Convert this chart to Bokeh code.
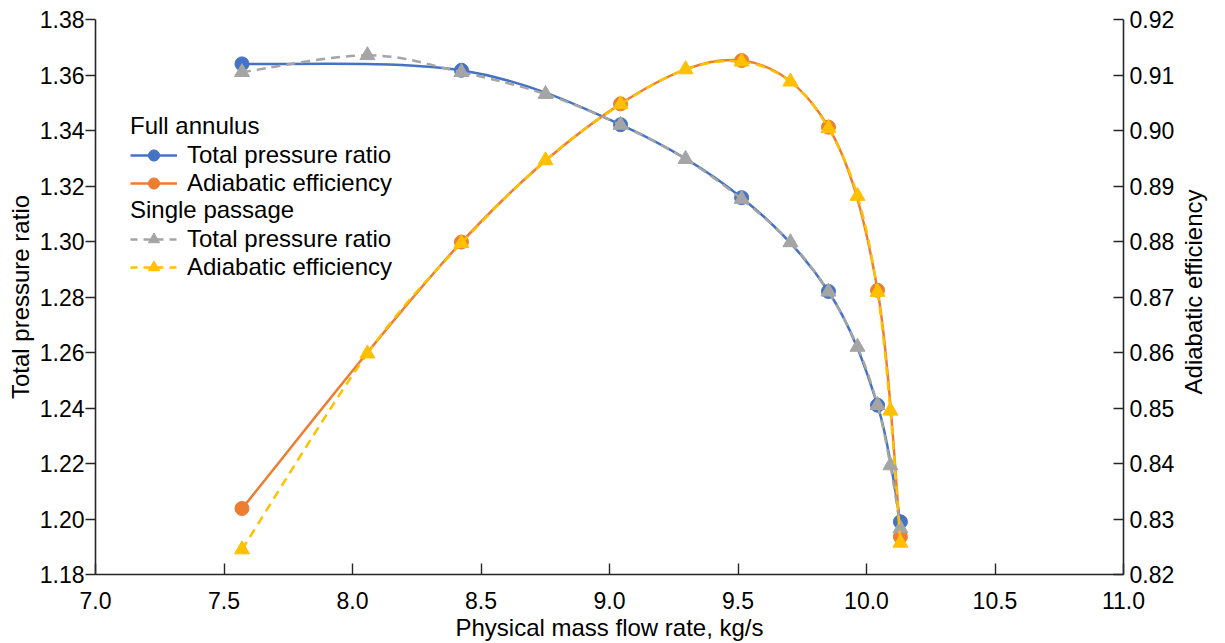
import math

from bokeh.plotting import figure
from bokeh.models import (Range1d, LinearAxis, Legend, LegendItem, FixedTicker,
                          NumeralTickFormatter)
from bokeh.embed import file_html
from bokeh.resources import INLINE

# Compressor map: full annulus vs single passage
fa_flow = [7.57, 8.424, 9.043, 9.514, 9.852, 10.043, 10.132]
fa_pr = [1.3640, 1.3617, 1.3421, 1.3158, 1.2820, 1.2410, 1.1990]
fa_eff = [0.8319, 0.8799, 0.9048, 0.9126, 0.9006, 0.8712, 0.8268]

sp_flow = [7.57, 8.058, 8.424, 8.751, 9.043, 9.296, 9.514, 9.704, 9.852, 9.965, 10.043, 10.093, 10.132]
sp_pr = [1.3610, 1.3671, 1.3610, 1.3531, 1.3420, 1.3297, 1.3153, 1.2997, 1.2819, 1.2620, 1.2410, 1.2193, 1.1966]
sp_eff = [0.8245, 0.8598, 0.8797, 0.8946, 0.9047, 0.9110, 0.9124, 0.9088, 0.9004, 0.8882, 0.8709, 0.8495, 0.8257]

pr_ticks = [1.18, 1.20, 1.22, 1.24, 1.26, 1.28, 1.30, 1.32, 1.34, 1.36, 1.38]
eff_ticks = [0.82, 0.83, 0.84, 0.85, 0.86, 0.87, 0.88, 0.89, 0.90, 0.91, 0.92]
flow_ticks = [7.0, 7.5, 8.0, 8.5, 9.0, 9.5, 10.0, 10.5, 11.0]

BLUE, ORANGE, GRAY, GOLD = "#4472C4", "#ED7D31", "#A5A5A5", "#FFC000"
FONT = "Liberation Sans"
FS = "24px"
TICK_FS = "23px"
AX = "#262626"


def smooth_segments(xs, ys):
    """Catmull-Rom style cubic Bezier segments through the points."""
    n = len(xs)
    seg = dict(x0=[], y0=[], x1=[], y1=[], cx0=[], cy0=[], cx1=[], cy1=[])
    for i in range(n - 1):
        a = max(i - 1, 0)
        d = min(i + 2, n - 1)
        seg["x0"].append(xs[i]); seg["y0"].append(ys[i])
        seg["x1"].append(xs[i + 1]); seg["y1"].append(ys[i + 1])
        seg["cx0"].append(xs[i] + (xs[i + 1] - xs[a]) / 6)
        seg["cy0"].append(ys[i] + (ys[i + 1] - ys[a]) / 6)
        seg["cx1"].append(xs[i + 1] - (xs[d] - xs[i]) / 6)
        seg["cy1"].append(ys[i + 1] - (ys[d] - ys[i]) / 6)
    return seg


p = figure(width=1225, height=643, output_backend="svg", toolbar_location=None,
           x_range=Range1d(7.0, 11.0), y_range=Range1d(1.18, 1.38),
           min_border_left=95, min_border_right=102, min_border_top=19,
           min_border_bottom=68)
p.extra_y_ranges = {"eff": Range1d(0.82, 0.92)}
p.outline_line_color = None
p.xgrid.visible = False
p.ygrid.visible = False

# x axis
xa = p.xaxis[0]
xa.ticker = FixedTicker(ticks=flow_ticks)
xa.formatter = NumeralTickFormatter(format="0.0")
xa.axis_label = "Physical mass flow rate, kg/s"
xa.major_tick_in = 11
xa.major_tick_out = 0
xa.minor_tick_line_color = None
xa.major_label_standoff = 17
xa.axis_label_standoff = 2

# left axis
ya = p.yaxis[0]
ya.ticker = FixedTicker(ticks=pr_ticks)
ya.formatter = NumeralTickFormatter(format="0.00")
ya.axis_label = "Total pressure ratio"
ya.major_tick_in = 0
ya.major_tick_out = 10
ya.minor_tick_line_color = None
ya.major_label_standoff = 1
ya.axis_label_standoff = 3

# right axis
ra = LinearAxis(y_range_name="eff", ticker=FixedTicker(ticks=eff_ticks),
                formatter=NumeralTickFormatter(format="0.00"))
ra.major_tick_in = 10
ra.major_tick_out = 0
ra.minor_tick_line_color = None
ra.major_label_standoff = 6
p.add_layout(ra, "right")

for ax in (xa, ya, ra):
    ax.axis_line_color = AX
    ax.axis_line_width = 1.6
    ax.major_tick_line_color = AX
    ax.major_tick_line_width = 1.4
    ax.major_label_text_font = FONT
    ax.major_label_text_font_size = TICK_FS
    ax.major_label_text_color = "#000000"
    ax.axis_label_text_font = FONT
    ax.axis_label_text_font_size = FS
    ax.axis_label_text_font_style = "normal"
    ax.axis_label_text_color = "#000000"

# right-hand title, reading bottom to top like the left one; it starts at the
# bottom of the axis, so a run of no-break spaces lifts it to mid-height
ra.axis_label = "\u00a0" * 27 + "Adiabatic efficiency"
ra.axis_label_orientation = math.pi / 2
ra.axis_label_align = "start"
ra.axis_label_standoff = 16

# full annulus
s = smooth_segments(fa_flow, fa_pr)
fa_pr_line = p.bezier(source=s, x0="x0", y0="y0", x1="x1", y1="y1", cx0="cx0",
                      cy0="cy0", cx1="cx1", cy1="cy1", line_color=BLUE, line_width=2.5)
fa_pr_pts = p.scatter(fa_flow, fa_pr, marker="circle", size=14, fill_color=BLUE,
                      line_color=BLUE)

s = smooth_segments(fa_flow, fa_eff)
fa_eff_line = p.bezier(source=s, x0="x0", y0="y0", x1="x1", y1="y1", cx0="cx0",
                       cy0="cy0", cx1="cx1", cy1="cy1", line_color=ORANGE,
                       line_width=2.5, y_range_name="eff")
fa_eff_pts = p.scatter(fa_flow, fa_eff, marker="circle", size=14, fill_color=ORANGE,
                       line_color=ORANGE, y_range_name="eff")

# single passage
s = smooth_segments(sp_flow, sp_pr)
sp_pr_line = p.bezier(source=s, x0="x0", y0="y0", x1="x1", y1="y1", cx0="cx0",
                      cy0="cy0", cx1="cx1", cy1="cy1", line_color=GRAY,
                      line_width=2.5, line_dash="9 6")
sp_pr_pts = p.scatter(sp_flow, sp_pr, marker="triangle", size=15, fill_color=GRAY,
                      line_color=GRAY)

s = smooth_segments(sp_flow, sp_eff)
sp_eff_line = p.bezier(source=s, x0="x0", y0="y0", x1="x1", y1="y1", cx0="cx0",
                       cy0="cy0", cx1="cx1", cy1="cy1", line_color=GOLD,
                       line_width=2.5, line_dash="9 6", y_range_name="eff")
sp_eff_pts = p.scatter(sp_flow, sp_eff, marker="triangle", size=15, fill_color=GOLD,
                       line_color=GOLD, y_range_name="eff")

# legend-only line samples (bezier has no legend glyph)
fa_pr_key = p.line([7.0], [1.0], line_color=BLUE, line_width=2.5)
fa_eff_key = p.line([7.0], [1.0], line_color=ORANGE, line_width=2.5)
sp_pr_key = p.line([7.0], [1.0], line_color=GRAY, line_width=2.5, line_dash="7 6")
sp_eff_key = p.line([7.0], [1.0], line_color=GOLD, line_width=2.5, line_dash="7 6")


def make_legend(title, items, loc):
    lg = Legend(title=title, items=items, location=loc)
    lg.title_text_font = FONT
    lg.title_text_font_size = FS
    lg.title_text_font_style = "normal"
    lg.title_text_color = "#000000"
    lg.title_standoff = 1
    lg.label_text_font = FONT
    lg.label_text_font_size = FS
    lg.label_text_color = "#000000"
    lg.border_line_color = None
    lg.background_fill_alpha = 0
    lg.padding = 0
    lg.margin = 0
    lg.spacing = 0
    lg.glyph_width = 47
    lg.glyph_height = 28
    lg.label_height = 28
    lg.label_standoff = 10
    return lg


leg1 = make_legend("Full annulus", [
    LegendItem(label="Total pressure ratio", renderers=[fa_pr_key, fa_pr_pts]),
    LegendItem(label="Adiabatic efficiency", renderers=[fa_eff_key, fa_eff_pts]),
], (35, 377))
leg2 = make_legend("Single passage", [
    LegendItem(label="Total pressure ratio", renderers=[sp_pr_key, sp_pr_pts]),
    LegendItem(label="Adiabatic efficiency", renderers=[sp_eff_key, sp_eff_pts]),
], (35, 293))
p.add_layout(leg1)
p.add_layout(leg2)

open("out.html", "w").write(file_html(p, INLINE))
